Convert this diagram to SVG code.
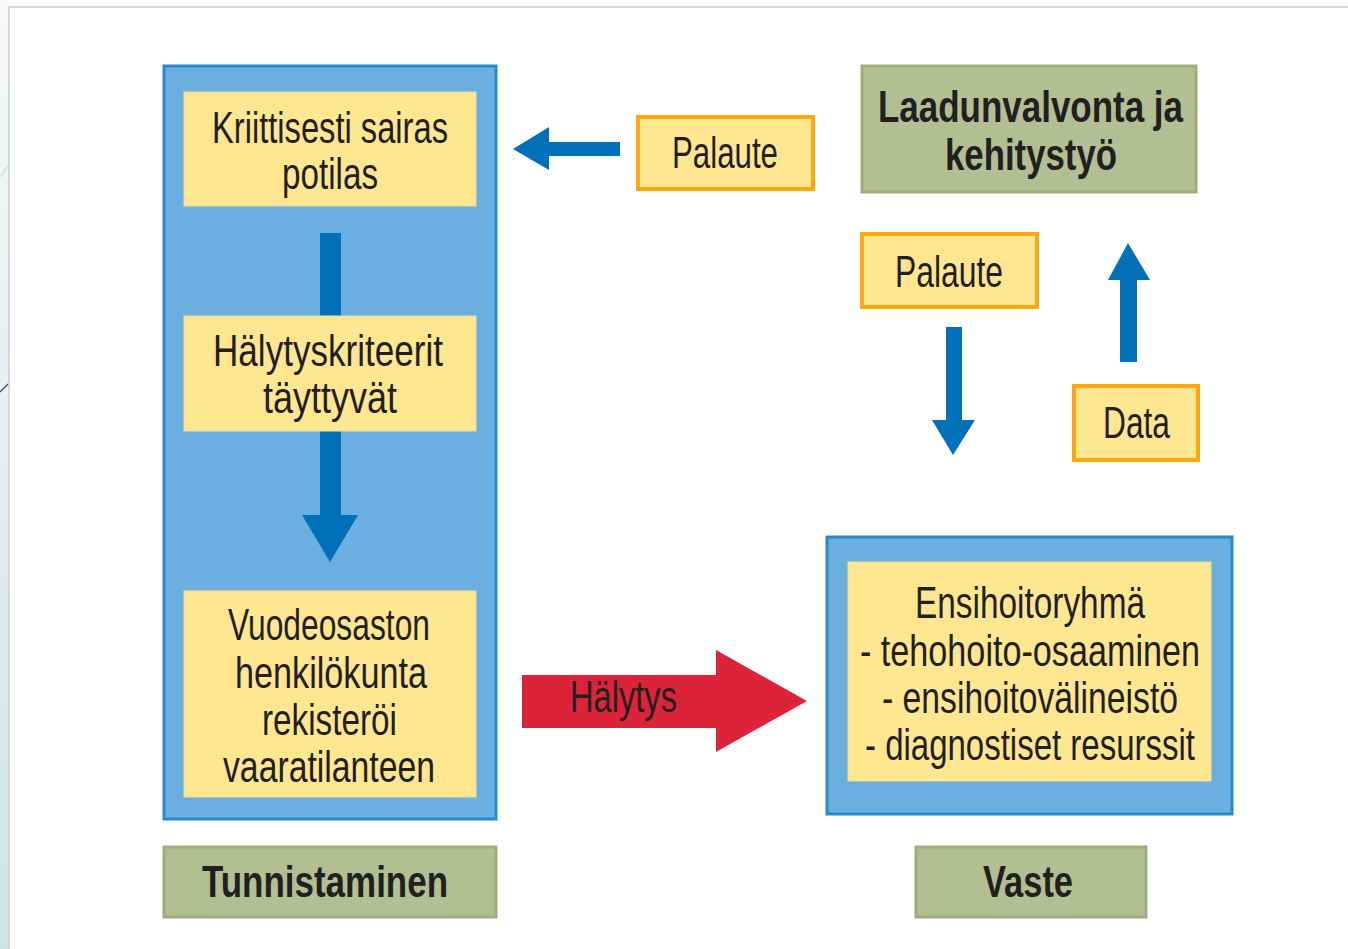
<svg xmlns="http://www.w3.org/2000/svg" width="1348" height="949" viewBox="0 0 1348 949">
<defs>
<linearGradient id="strip" x1="0" y1="0" x2="0" y2="1">
<stop offset="0" stop-color="#f6f9fa"/>
<stop offset="1" stop-color="#cde3ea"/>
</linearGradient>
</defs>
<style>
.blue{fill:#6aafdf;stroke:#2a88cc;stroke-width:3}
.yel{fill:#ffe792;stroke:#f3dc8c;stroke-width:1}
.grn{fill:#b1bf93;stroke:#9fae78;stroke-width:3}
.org{fill:#ffe792;stroke:#ffa70f;stroke-width:4}
.t{font-family:"Liberation Sans Narrow","Liberation Sans",Arial,sans-serif;fill:#231f20;font-size:44px}
.b{font-weight:bold}
.arr{fill:#0070b8}
.red{fill:#dc233a}
</style>
<rect width="1348" height="949" fill="#ffffff"/>
<rect x="0" y="0" width="8" height="949" fill="url(#strip)"/>
<line x1="9" y1="8" x2="9" y2="949" stroke="#d6d6d6" stroke-width="2"/>
<line x1="8" y1="7" x2="1348" y2="7" stroke="#d6d6d6" stroke-width="2"/>
<line x1="0" y1="177" x2="8" y2="166" stroke="#d9dde0" stroke-width="1.5"/>
<line x1="0" y1="392" x2="8" y2="384" stroke="#2f5a7a" stroke-width="1.5"/>

<g id="tunnistaminen-container">
<rect class="blue" x="164" y="66" width="332" height="753"/>
</g>

<g id="connectors">
<rect class="arr" x="320" y="233" width="21" height="284"/>
<polygon class="arr" points="302,515 358,515 330,562"/>
<polygon class="arr" points="620,142 549,142 549,127 513,149 549,170 549,156 620,156"/>
<polygon class="arr" points="946,327 962,327 962,420 975,420 953,455 932,420 946,420"/>
<polygon class="arr" points="1120,362 1137,362 1137,280 1150,280 1128,243 1108,280 1120,280"/>
<polygon class="red" points="522,675 716,675 716,650 807,701 716,752 716,728 522,728"/>
<text class="t" x="570" y="712" textLength="107" lengthAdjust="spacingAndGlyphs">Hälytys</text>
</g>

<g id="kriittisesti">
<rect class="yel" x="184" y="92" width="292" height="114"/>
<text class="t" x="212" y="143" textLength="236" lengthAdjust="spacingAndGlyphs">Kriittisesti sairas</text>
<text class="t" x="282" y="189" textLength="96" lengthAdjust="spacingAndGlyphs">potilas</text>
</g>

<g id="halytyskriteerit">
<rect class="yel" x="184" y="316" width="292" height="115"/>
<text class="t" x="213" y="366" textLength="230" lengthAdjust="spacingAndGlyphs">Hälytyskriteerit</text>
<text class="t" x="263" y="413" textLength="134" lengthAdjust="spacingAndGlyphs">täyttyvät</text>
</g>

<g id="vuodeosasto">
<rect class="yel" x="184" y="591" width="292" height="206"/>
<text class="t" x="228" y="640" textLength="202" lengthAdjust="spacingAndGlyphs">Vuodeosaston</text>
<text class="t" x="235" y="688" textLength="192" lengthAdjust="spacingAndGlyphs">henkilökunta</text>
<text class="t" x="262" y="735" textLength="135" lengthAdjust="spacingAndGlyphs">rekisteröi</text>
<text class="t" x="223" y="782" textLength="212" lengthAdjust="spacingAndGlyphs">vaaratilanteen</text>
</g>

<g id="tunnistaminen">
<rect class="grn" x="164" y="847" width="332" height="70"/>
<text class="t b" x="202" y="897" textLength="246" lengthAdjust="spacingAndGlyphs">Tunnistaminen</text>
</g>

<g id="palaute1">
<rect class="org" x="638" y="117" width="175" height="72"/>
<text class="t" x="672" y="168" textLength="106" lengthAdjust="spacingAndGlyphs">Palaute</text>
</g>

<g id="laadunvalvonta">
<rect class="grn" x="862" y="66" width="334" height="126"/>
<text class="t b" x="878" y="122" textLength="305" lengthAdjust="spacingAndGlyphs">Laadunvalvonta ja</text>
<text class="t b" x="945" y="170" textLength="172" lengthAdjust="spacingAndGlyphs">kehitystyö</text>
</g>

<g id="palaute2">
<rect class="org" x="862" y="234" width="175" height="73"/>
<text class="t" x="895" y="287" textLength="108" lengthAdjust="spacingAndGlyphs">Palaute</text>
</g>

<g id="data">
<rect class="org" x="1074" y="386" width="124" height="74"/>
<text class="t" x="1103" y="438" textLength="67" lengthAdjust="spacingAndGlyphs">Data</text>
</g>

<g id="ensihoitoryhma">
<rect class="blue" x="827" y="537" width="405" height="277"/>
<rect class="yel" x="848" y="562" width="363" height="219"/>
<text class="t" x="915" y="618" textLength="230" lengthAdjust="spacingAndGlyphs">Ensihoitoryhmä</text>
<text class="t" x="860" y="666" textLength="340" lengthAdjust="spacingAndGlyphs">- tehohoito-osaaminen</text>
<text class="t" x="882" y="713" textLength="296" lengthAdjust="spacingAndGlyphs">- ensihoitovälineistö</text>
<text class="t" x="865" y="760" textLength="330" lengthAdjust="spacingAndGlyphs">- diagnostiset resurssit</text>
</g>

<g id="vaste">
<rect class="grn" x="916" y="847" width="230" height="70"/>
<text class="t b" x="983" y="897" textLength="90" lengthAdjust="spacingAndGlyphs">Vaste</text>
</g>
</svg>
